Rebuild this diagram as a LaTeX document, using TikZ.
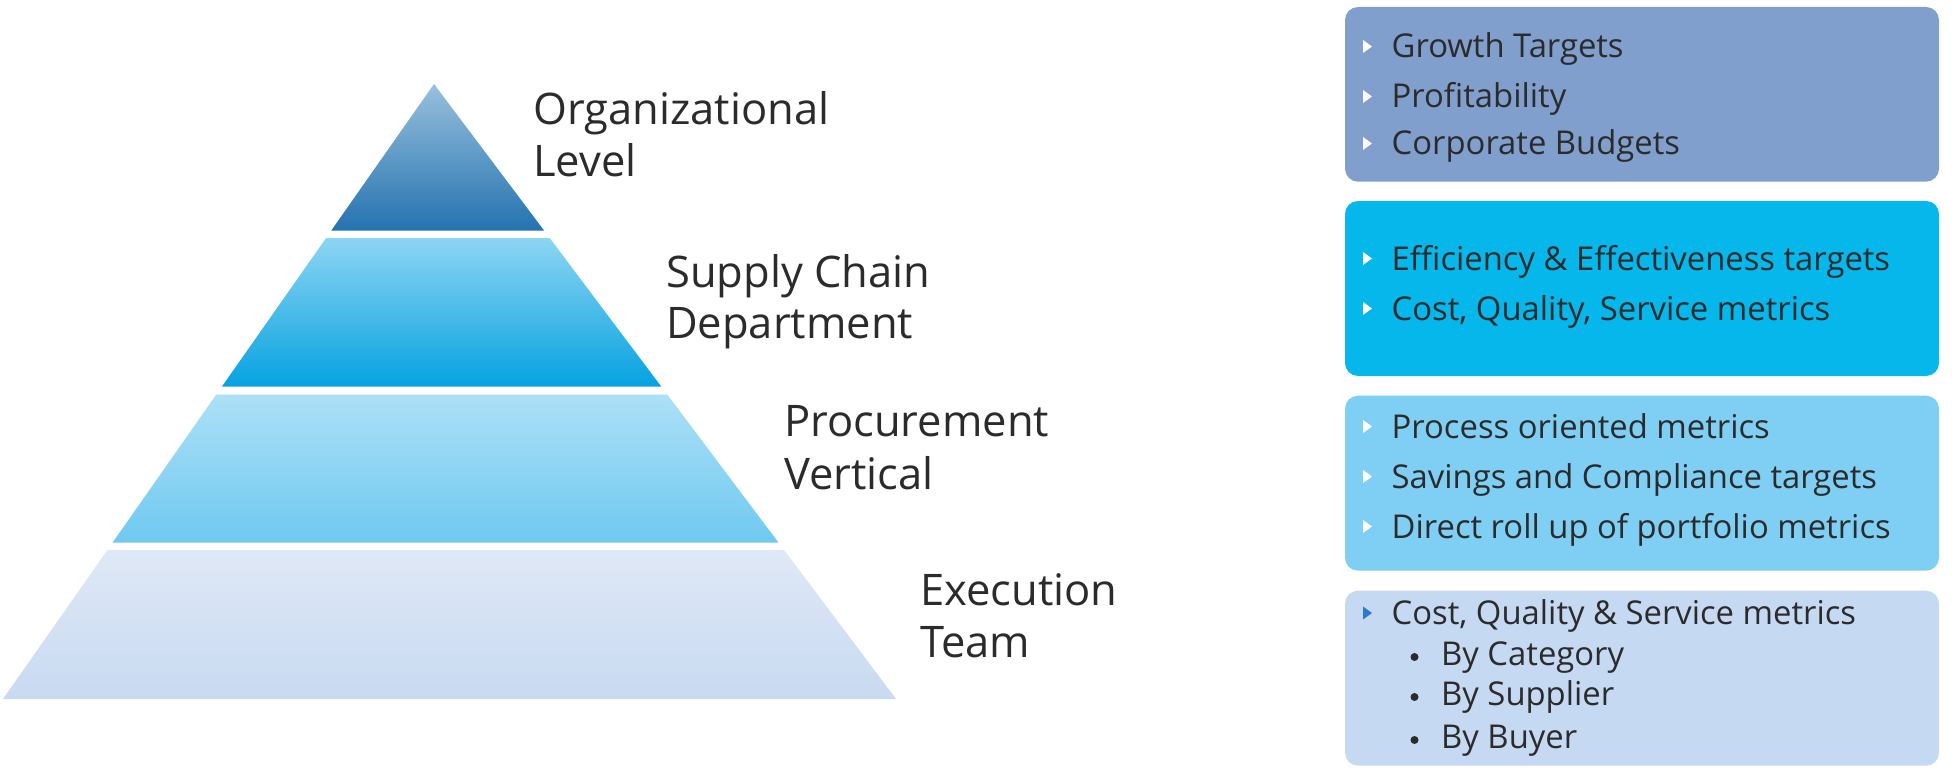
\documentclass[tikz,border=0pt]{standalone}
\usepackage{fontspec}
\setmainfont{Open Sans}
\definecolor{txt}{HTML}{2B2B2B}
\definecolor{boxA}{HTML}{819FCD}
\definecolor{boxB}{HTML}{05B7EB}
\definecolor{boxC}{HTML}{7FCFF4}
\definecolor{boxD}{HTML}{C6D9F2}
\definecolor{tribl}{HTML}{2E7BC4}
\definecolor{pAt}{HTML}{98C0DC}
\definecolor{pAb}{HTML}{2473B0}
\definecolor{pBt}{HTML}{8DD5F2}
\definecolor{pBb}{HTML}{06A2E0}
\definecolor{pCt}{HTML}{ACE0F6}
\definecolor{pCb}{HTML}{6FC9F0}
\definecolor{pDt}{HTML}{DFE8F6}
\definecolor{pDb}{HTML}{C8DAF1}
\begin{document}
\begin{tikzpicture}[x=1pt,y=-1pt,
  lvl/.style={anchor=base west,inner sep=0pt,text=txt,font=\fontsize{43.5}{52}\selectfont},
  item/.style={anchor=base west,inner sep=0pt,text=txt,font=\fontsize{32.8}{38}\selectfont},
  infobox/.style={rounded corners=13pt},
  tribullet/.pic={\path[pic actions] (0,-6.5) -- (9,0) -- (0,6.5) -- cycle;},
  dotbullet/.style={circle,fill=txt,inner sep=0pt,minimum size=8pt}]
\useasboundingbox (0,0) rectangle (1952,781);
% pyramid slices
\shade[top color=pAt,bottom color=pAb] (434,84) -- (544.05,230.5) -- (331.3,230.5) -- cycle;
\shade[top color=pBt,bottom color=pBb] (326.1,238) -- (549.7,238) -- (661.3,386.6) -- (221.9,386.6) -- cycle;
\shade[top color=pCt,bottom color=pCb] (216.3,394.6) -- (667.3,394.6) -- (778.6,542.7) -- (112.5,542.7) -- cycle;
\shade[top color=pDt,bottom color=pDb] (107.4,550) -- (784.1,550) -- (896,699) -- (3,699) -- cycle;
% level labels
\node[lvl] (org1) at (533,125) {Organizational};
\node[lvl] (org2) at (533,176) {Level};
\node[lvl] (sc1) at (666,287) {Supply Chain};
\node[lvl] (sc2) at (666,338.5) {Department};
\node[lvl] (pr1) at (784,436) {Procurement};
\node[lvl] (pr2) at (784,489) {Vertical};
\node[lvl] (ex1) at (920,605) {Execution};
\node[lvl] (ex2) at (920,657) {Team};
% boxes
\fill[boxA,infobox] (1345,7) rectangle (1939,181.7);
\fill[boxB,infobox] (1345,201) rectangle (1939,376);
\fill[boxC,infobox] (1345,395.7) rectangle (1939,570.7);
\fill[boxD,infobox] (1345,590.7) rectangle (1939,765.7);
% box 1
\pic[fill=white] at (1363,46.5) {tribullet};
\pic[fill=white] at (1363,96.5) {tribullet};
\pic[fill=white] at (1363,143.5) {tribullet};
\node[item] (a1) at (1391.5,58) {Growth Targets};
\node[item] (a2) at (1391.5,108) {Profitability};
\node[item] (a3) at (1391.5,155) {Corporate Budgets};
% box 2
\pic[fill=white] at (1363,258.5) {tribullet};
\pic[fill=white] at (1363,308.5) {tribullet};
\node[item] (b1) at (1391.5,270) {Efficiency \& Effectiveness targets};
\node[item] (b2) at (1391.5,320) {Cost, Quality, Service metrics};
% box 3
\pic[fill=white] at (1363,426.5) {tribullet};
\pic[fill=white] at (1363,476.5) {tribullet};
\pic[fill=white] at (1363,526.5) {tribullet};
\node[item] (c1) at (1391.5,438) {Process oriented metrics};
\node[item] (c2) at (1391.5,488) {Savings and Compliance targets};
\node[item] (c3) at (1391.5,538) {Direct roll up of portfolio metrics};
% box 4
\pic[fill=tribl] at (1363,613) {tribullet};
\node[item] (d1) at (1391.5,624.5) {Cost, Quality \& Service metrics};
\node[dotbullet] (e1) at (1414.5,657) {};
\node[dotbullet] (e2) at (1414.5,697) {};
\node[dotbullet] (e3) at (1414.5,740) {};
\node[item] (d2) at (1441,665.5) {By Category};
\node[item] (d3) at (1441,705.5) {By Supplier};
\node[item] (d4) at (1441,748.5) {By Buyer};
\end{tikzpicture}
\end{document}
